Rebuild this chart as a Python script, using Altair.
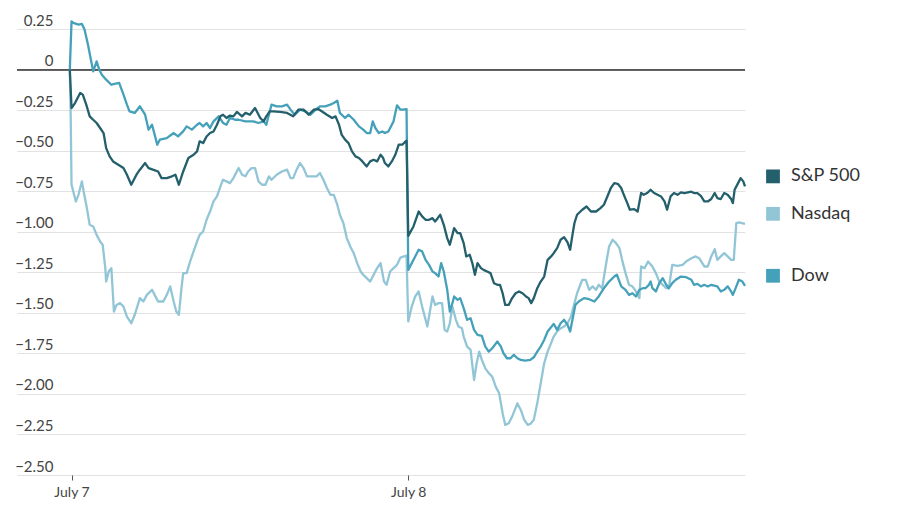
import altair as alt
import pandas as pd

# minutes of trading since July 7 open (390 per session), percent change
SP500 = [(0,0.0),(2,-0.237),(6,-0.206),(12,-0.144),(15,-0.154),(19,-0.216),(23,-0.288),(27,-0.309),(31,-0.329),(35,-0.360),(39,-0.391),(42,-0.484),(46,-0.535),(50,-0.566),(56,-0.586),(62,-0.607),(66,-0.648),(71,-0.710),(77,-0.648),(81,-0.617),(87,-0.576),(91,-0.607),(96,-0.617),(102,-0.628),(106,-0.669),(112,-0.669),(118,-0.658),(122,-0.648),(126,-0.710),(131,-0.628),(137,-0.545),(143,-0.525),(147,-0.504),(150,-0.442),(154,-0.453),(158,-0.412),(162,-0.391),(166,-0.381),(170,-0.340),(174,-0.288),(177,-0.278),(181,-0.298),(185,-0.283),(189,-0.288),(193,-0.261),(199,-0.288),(203,-0.267),(208,-0.278),(214,-0.237),(220,-0.298),(224,-0.319),(227,-0.288),(231,-0.257),(235,-0.257),(243,-0.261),(251,-0.267),(258,-0.288),(264,-0.247),(270,-0.247),(276,-0.278),(282,-0.247),(287,-0.243),(291,-0.257),(297,-0.278),(303,-0.298),(307,-0.288),(311,-0.340),(314,-0.401),(318,-0.432),(322,-0.453),(326,-0.504),(330,-0.535),(334,-0.545),(338,-0.566),(343,-0.597),(347,-0.566),(351,-0.556),(355,-0.566),(359,-0.525),(362,-0.545),(364,-0.576),(368,-0.597),(372,-0.566),(376,-0.525),(380,-0.463),(384,-0.463),(388,-0.442),(389,-0.438),
(391,-1.025),(397,-0.967),(403,-0.875),(407,-0.905),(411,-0.926),(415,-0.926),(419,-0.916),(422,-0.936),(425,-0.916),(428,-0.895),(432,-0.957),(436,-1.039),(439,-1.080),(442,-1.019),(444,-0.977),(448,-1.008),(451,-1.008),(455,-1.070),(458,-1.152),(462,-1.142),(465,-1.193),(468,-1.265),(471,-1.193),(475,-1.224),(478,-1.235),(482,-1.245),(486,-1.255),(490,-1.317),(494,-1.327),(497,-1.327),(500,-1.379),(503,-1.451),(507,-1.451),(511,-1.409),(515,-1.379),(519,-1.368),(523,-1.379),(527,-1.399),(530,-1.409),(533,-1.440),(536,-1.409),(540,-1.348),(544,-1.307),(548,-1.276),(552,-1.173),(556,-1.152),(559,-1.132),(563,-1.101),(567,-1.049),(571,-1.033),(575,-1.066),(578,-1.111),(581,-1.008),(583,-0.946),(586,-0.895),(592,-0.864),(597,-0.844),(602,-0.875),(608,-0.875),(613,-0.854),(617,-0.833),(621,-0.782),(625,-0.730),(629,-0.700),(633,-0.704),(637,-0.730),(640,-0.772),(644,-0.823),(647,-0.864),(652,-0.860),(656,-0.875),(660,-0.761),(663,-0.772),(667,-0.761),(671,-0.741),(675,-0.761),(679,-0.772),(683,-0.782),(687,-0.813),(690,-0.864),(694,-0.782),(698,-0.761),(702,-0.772),(706,-0.757),(710,-0.761),(714,-0.757),(718,-0.753),(721,-0.761),(725,-0.761),(729,-0.778),(733,-0.813),(737,-0.813),(741,-0.798),(745,-0.761),(748,-0.792),(752,-0.798),(756,-0.761),(760,-0.772),(764,-0.798),(766,-0.823),(768,-0.741),(772,-0.700),(775,-0.669),(778,-0.689),(780,-0.720)]

NASDAQ = [(0,0.0),(1,-0.278),(2,-0.710),(7,-0.813),(10,-0.772),(14,-0.689),(16,-0.751),(19,-0.833),(23,-0.957),(27,-0.967),(31,-1.019),(35,-1.060),(38,-1.080),(41,-1.224),(42,-1.307),(45,-1.245),(48,-1.224),(51,-1.492),(54,-1.451),(58,-1.440),(62,-1.461),(66,-1.523),(71,-1.564),(75,-1.512),(81,-1.409),(85,-1.430),(89,-1.389),(95,-1.358),(98,-1.389),(102,-1.430),(108,-1.430),(112,-1.389),(116,-1.337),(120,-1.430),(123,-1.492),(126,-1.512),(129,-1.348),(131,-1.255),(135,-1.255),(139,-1.183),(143,-1.121),(147,-1.060),(150,-1.019),(154,-0.998),(158,-0.926),(162,-0.875),(166,-0.813),(170,-0.782),(174,-0.720),(177,-0.679),(181,-0.689),(185,-0.700),(189,-0.669),(195,-0.607),(199,-0.648),(203,-0.658),(206,-0.628),(210,-0.607),(214,-0.607),(218,-0.689),(222,-0.710),(226,-0.710),(230,-0.658),(233,-0.679),(239,-0.648),(245,-0.628),(251,-0.617),(255,-0.669),(258,-0.669),(262,-0.617),(266,-0.576),(270,-0.607),(274,-0.658),(280,-0.658),(285,-0.658),(289,-0.638),(293,-0.679),(297,-0.730),(301,-0.772),(305,-0.772),(309,-0.833),(312,-0.895),(316,-0.946),(320,-1.039),(324,-1.091),(328,-1.132),(332,-1.193),(336,-1.245),(339,-1.265),(343,-1.286),(347,-1.307),(351,-1.265),(355,-1.224),(359,-1.193),(363,-1.307),(366,-1.327),(370,-1.245),(374,-1.224),(378,-1.204),(382,-1.159),(386,-1.152),(389,-1.146),
(391,-1.553),(395,-1.461),(399,-1.399),(403,-1.368),(407,-1.461),(413,-1.584),(419,-1.399),(422,-1.451),(426,-1.440),(430,-1.440),(433,-1.605),(436,-1.615),(439,-1.564),(442,-1.461),(446,-1.543),(449,-1.584),(453,-1.595),(455,-1.646),(459,-1.708),(463,-1.728),(467,-1.914),(470,-1.811),(473,-1.739),(476,-1.790),(480,-1.842),(484,-1.872),(488,-1.893),(492,-1.955),(496,-1.996),(500,-2.119),(503,-2.191),(507,-2.181),(511,-2.140),(517,-2.058),(521,-2.099),(525,-2.160),(529,-2.191),(532,-2.185),(536,-2.160),(540,-2.058),(544,-1.934),(548,-1.811),(552,-1.739),(556,-1.687),(559,-1.646),(563,-1.615),(567,-1.595),(571,-1.584),(575,-1.564),(579,-1.523),(583,-1.440),(586,-1.379),(592,-1.296),(596,-1.296),(600,-1.358),(604,-1.337),(608,-1.358),(611,-1.327),(615,-1.348),(619,-1.214),(623,-1.091),(627,-1.049),(631,-1.070),(635,-1.101),(638,-1.173),(642,-1.255),(646,-1.327),(650,-1.337),(654,-1.368),(658,-1.409),(660,-1.214),(664,-1.224),(668,-1.183),(673,-1.214),(677,-1.255),(681,-1.307),(685,-1.327),(689,-1.348),(692,-1.348),(696,-1.204),(702,-1.210),(708,-1.204),(712,-1.183),(718,-1.163),(723,-1.152),(727,-1.163),(733,-1.214),(737,-1.214),(741,-1.152),(745,-1.107),(748,-1.173),(752,-1.152),(756,-1.132),(760,-1.152),(764,-1.173),(767,-1.173),(770,-0.946),(773,-0.942),(780,-0.951)]

DOW = [(0,0.0),(2,0.298),(4,0.288),(10,0.278),(14,0.282),(17,0.247),(21,0.154),(27,-0.010),(31,0.051),(34,0.0),(37,-0.031),(42,-0.062),(48,-0.093),(57,-0.082),(62,-0.154),(66,-0.216),(69,-0.257),(75,-0.267),(81,-0.226),(87,-0.278),(91,-0.370),(95,-0.340),(98,-0.401),(101,-0.463),(104,-0.432),(112,-0.422),(120,-0.391),(125,-0.412),(131,-0.381),(135,-0.350),(141,-0.370),(147,-0.340),(150,-0.329),(154,-0.350),(158,-0.329),(162,-0.360),(166,-0.319),(172,-0.288),(177,-0.329),(181,-0.340),(185,-0.298),(191,-0.309),(195,-0.309),(203,-0.319),(212,-0.319),(218,-0.329),(224,-0.319),(227,-0.340),(230,-0.278),(233,-0.216),(239,-0.226),(245,-0.226),(251,-0.216),(255,-0.247),(260,-0.278),(266,-0.247),(272,-0.257),(278,-0.278),(284,-0.247),(289,-0.226),(295,-0.226),(301,-0.216),(305,-0.206),(309,-0.191),(312,-0.267),(318,-0.298),(322,-0.278),(328,-0.309),(334,-0.350),(339,-0.370),(343,-0.391),(347,-0.391),(350,-0.319),(353,-0.360),(357,-0.391),(361,-0.381),(364,-0.391),(368,-0.381),(374,-0.319),(378,-0.220),(382,-0.247),(385,-0.247),(389,-0.243),
(391,-1.235),(399,-1.152),(403,-1.111),(407,-1.121),(411,-1.173),(415,-1.204),(419,-1.245),(422,-1.255),(426,-1.276),(429,-1.193),(432,-1.245),(436,-1.358),(439,-1.492),(442,-1.440),(444,-1.399),(448,-1.420),(451,-1.409),(455,-1.471),(459,-1.543),(463,-1.533),(467,-1.605),(471,-1.636),(476,-1.642),(480,-1.708),(484,-1.739),(488,-1.718),(494,-1.677),(498,-1.708),(501,-1.749),(505,-1.780),(509,-1.780),(513,-1.759),(517,-1.780),(521,-1.790),(526,-1.794),(532,-1.790),(536,-1.774),(540,-1.739),(544,-1.708),(548,-1.667),(552,-1.615),(555,-1.595),(559,-1.568),(563,-1.605),(567,-1.564),(571,-1.543),(575,-1.574),(578,-1.615),(581,-1.533),(584,-1.451),(588,-1.430),(594,-1.409),(600,-1.416),(606,-1.430),(611,-1.399),(617,-1.348),(623,-1.307),(629,-1.276),(632,-1.265),(637,-1.337),(642,-1.358),(646,-1.389),(650,-1.379),(654,-1.399),(658,-1.358),(662,-1.348),(665,-1.348),(669,-1.327),(671,-1.307),(673,-1.348),(677,-1.368),(681,-1.317),(685,-1.286),(689,-1.327),(692,-1.348),(696,-1.317),(700,-1.296),(706,-1.276),(712,-1.280),(718,-1.296),(721,-1.327),(725,-1.321),(729,-1.337),(733,-1.327),(737,-1.337),(741,-1.327),(748,-1.337),(752,-1.368),(756,-1.358),(760,-1.337),(764,-1.368),(766,-1.389),(770,-1.337),(773,-1.296),(777,-1.307),(780,-1.333)]

SERIES = ["S&P 500", "Nasdaq", "Dow"]
COLORS = ["#245f6c", "#92c6d6", "#45a0b9"]
Y_TICKS = [0.25, 0, -0.25, -0.5, -0.75, -1.0, -1.25, -1.5, -1.75, -2.0, -2.25, -2.5]
X_TICKS = [2, 391]
X_LABELS = ["July 7", "July 8"]

rows = []
for name, pts in zip(SERIES, [SP500, NASDAQ, DOW]):
    for t, v in pts:
        rows.append({"series": name, "t": t, "v": v})
df = pd.DataFrame(rows)
last = pd.DataFrame([{"series": n, "t": p[-1][0], "v": p[-1][1]}
                     for n, p in zip(SERIES, [SP500, NASDAQ, DOW])])

W, H = 728, 454
xs = alt.Scale(domain=[-61, 780], nice=False, zero=False)
ys = alt.Scale(domain=[-2.5, 0.3], nice=False, zero=False)
cs = alt.Scale(domain=SERIES, range=COLORS)

label_expr = "datum.value < 100 ? '" + X_LABELS[0] + "' : '" + X_LABELS[1] + "'"

xaxis = alt.Axis(values=X_TICKS, labelExpr=label_expr, grid=False, domain=False,
                 ticks=True, tickSize=5, tickColor="#555", tickWidth=1,
                 labelFontSize=14, labelColor="#444", labelPadding=5, title=None)
yaxis = alt.Axis(values=Y_TICKS, grid=True, gridColor="#e2e2e2", gridWidth=1,
                 domain=False, ticks=False, tickSize=0,
                 labelExpr="datum.value == 0 ? '0' : format(datum.value, '.2f')",
                 labelAlign="right", labelPadding=-36, labelBaseline="alphabetic",
                 labelOffset=-4, labelFontSize=15, labelColor="#444", title=None,
                 labelOverlap=False)

grid = alt.Chart(df).mark_point(opacity=0).encode(
    x=alt.X("t:Q", scale=xs, axis=xaxis),
    y=alt.Y("v:Q", scale=ys, axis=yaxis),
)

zero = alt.Chart(last).mark_rule(color="#555", strokeWidth=1.5).encode(
    y=alt.datum(0, scale=ys)
)

def line(name):
    return alt.Chart(df).transform_filter(alt.datum.series == name).mark_line(
        strokeWidth=2.3, strokeJoin="round"
    ).encode(
        x=alt.X("t:Q", scale=xs),
        y=alt.Y("v:Q", scale=ys),
        color=alt.Color("series:N", scale=cs, legend=None),
    )

squares = alt.Chart(last).mark_square(size=190, opacity=1, xOffset=28, yOffset=-10).encode(
    x=alt.X("t:Q", scale=xs),
    y=alt.Y("v:Q", scale=ys),
    color=alt.Color("series:N", scale=cs, legend=None),
)
labels = alt.Chart(last).mark_text(align="left", baseline="middle", xOffset=46, yOffset=-10,
                                   fontSize=18, color="#333").encode(
    x=alt.X("t:Q", scale=xs),
    y=alt.Y("v:Q", scale=ys),
    text="series:N",
)

chart = alt.layer(grid, zero, line("Nasdaq"), line("Dow"), line("S&P 500"), squares, labels).properties(
    width=W, height=H,
    autosize=alt.AutoSizeParams(type="none"),
    padding={"left": 17, "top": 21, "right": 155, "bottom": 35},
    background="white",
    view=alt.ViewBackground(stroke="transparent", strokeWidth=0),
).configure_view(stroke="transparent", strokeWidth=0).configure(font="Lato").configure_axis(
    domain=False, grid=False
).configure_axisY(grid=True)

chart.save("out.html", embed_options={"renderer": "svg", "actions": False})
